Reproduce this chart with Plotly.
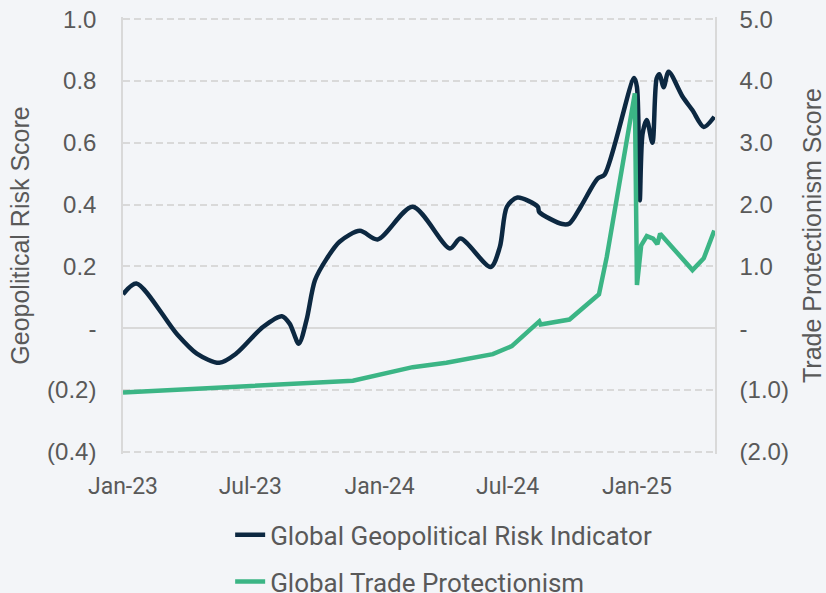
import plotly.graph_objects as go

risk_dates = ["2023-01-01", "2023-01-20", "2023-03-18", "2023-04-16", "2023-05-18", "2023-06-11",
              "2023-07-19", "2023-08-15", "2023-08-26", "2023-09-08", "2023-09-19", "2023-10-01",
              "2023-10-18", "2023-11-05", "2023-12-04", "2023-12-29", "2024-02-17", "2024-04-10",
              "2024-04-25", "2024-06-07", "2024-06-20", "2024-06-30", "2024-07-15", "2024-08-13",
              "2024-08-15", "2024-09-17", "2024-09-27", "2024-10-13", "2024-11-06", "2024-11-16",
              "2024-12-28", "2025-01-01", "2025-01-05", "2025-01-09", "2025-01-15", "2025-01-23",
              "2025-01-29", "2025-02-02", "2025-02-08", "2025-02-15", "2025-03-07", "2025-03-21",
              "2025-04-06", "2025-04-21"]
risk_val = [0.11, 0.145, -0.017, -0.082, -0.112, -0.082, 0.004, 0.039, 0.015, -0.05, 0.026,
            0.155, 0.226, 0.28, 0.315, 0.287, 0.393, 0.258, 0.29, 0.198, 0.263, 0.393, 0.423,
            0.393, 0.376, 0.337, 0.339, 0.393, 0.484, 0.497, 0.81, 0.78, 0.414, 0.63, 0.674,
            0.60, 0.808, 0.822, 0.78, 0.83, 0.749, 0.705, 0.651, 0.684]

trade_dates = ["2023-01-01", "2023-05-18", "2023-09-09", "2023-11-24", "2024-02-17", "2024-04-05",
               "2024-06-10", "2024-07-07", "2024-08-15", "2024-08-17", "2024-09-27", "2024-11-08",
               "2024-11-19", "2024-12-29", "2025-01-01", "2025-01-07", "2025-01-15", "2025-01-24",
               "2025-01-30", "2025-02-03", "2025-02-28", "2025-03-21", "2025-04-06", "2025-04-21"]
trade_val = [-1.04, -0.96, -0.905, -0.85, -0.63, -0.56, -0.42, -0.29, 0.11, 0.06, 0.14, 0.55,
             1.15, 3.80, 0.70, 1.34, 1.49, 1.45, 1.36, 1.53, 1.21, 0.94, 1.13, 1.58]

left_ticks = [-0.4, -0.2, 0, 0.2, 0.4, 0.6, 0.8, 1.0]
left_text = ["(0.4)", "(0.2)", "-", "0.2", "0.4", "0.6", "0.8", "1.0"]
right_ticks = [-2, -1, 0, 1, 2, 3, 4, 5]
right_text = ["(2.0)", "(1.0)", "-", "1.0", "2.0", "3.0", "4.0", "5.0"]

bg = "#F3F5F8"
grey_txt = "#595959"
grid = "#D9D9D9"

fig = go.Figure()
fig.add_trace(go.Scatter(x=risk_dates, y=risk_val, name="Global Geopolitical Risk Indicator",
                         mode="lines", line=dict(color="#0C2841", width=4.5, shape="spline", smoothing=0.8),
                         legendgroup="a"))
fig.add_trace(go.Scatter(x=trade_dates, y=trade_val, name="Global Trade Protectionism",
                         mode="lines", line=dict(color="#3BB585", width=4.5), yaxis="y2",
                         legendgroup="b"))

# ranges padded a little so the outer grid lines are not clipped away
fig.update_layout(
    width=826, height=593,
    paper_bgcolor=bg, plot_bgcolor=bg,
    margin=dict(l=123, r=111, t=17, b=139, autoexpand=False),
    font=dict(family="Liberation Sans, Arial", color=grey_txt, size=24),
    xaxis=dict(type="date", range=["2023-01-01", "2025-04-22"], tick0="2023-01-01", dtick="M6",
               tickformat="%b-%y", showgrid=False, zeroline=False, showline=False,
               ticks="", ticklabelstandoff=16,
               tickfont=dict(family="Roboto", size=23, color=grey_txt)),
    yaxis=dict(range=[-0.407, 1.007], tickvals=left_ticks, ticktext=left_text, showgrid=False,
               zeroline=False, showline=True, linecolor=grid, linewidth=1.5,
               ticks="", ticklabelstandoff=20,
               title=dict(text="Geopolitical Risk Score", font=dict(size=25, color=grey_txt), standoff=10)),
    yaxis2=dict(range=[-2.035, 5.035], tickvals=right_ticks, ticktext=right_text, overlaying="y",
                side="right", anchor="x", showgrid=True, gridcolor=grid, griddash="7px,4px",
                gridwidth=1.5, zeroline=True, zerolinecolor=grid, zerolinewidth=1.5,
                showline=True, linecolor=grid, linewidth=1.5, ticks="", ticklabelstandoff=18,
                title=dict(text="Trade Protectionism Score", font=dict(size=25, color=grey_txt), standoff=19)),
    legend=dict(x=0.181, y=-0.131, xanchor="left", yanchor="top", orientation="v",
                bgcolor="rgba(0,0,0,0)", tracegroupgap=10,
                font=dict(family="Roboto", size=26, color=grey_txt)),
    showlegend=True,
)

fig.write_html("out.html", config={"displayModeBar": False},
               post_script="document.body.style.margin='0';")
